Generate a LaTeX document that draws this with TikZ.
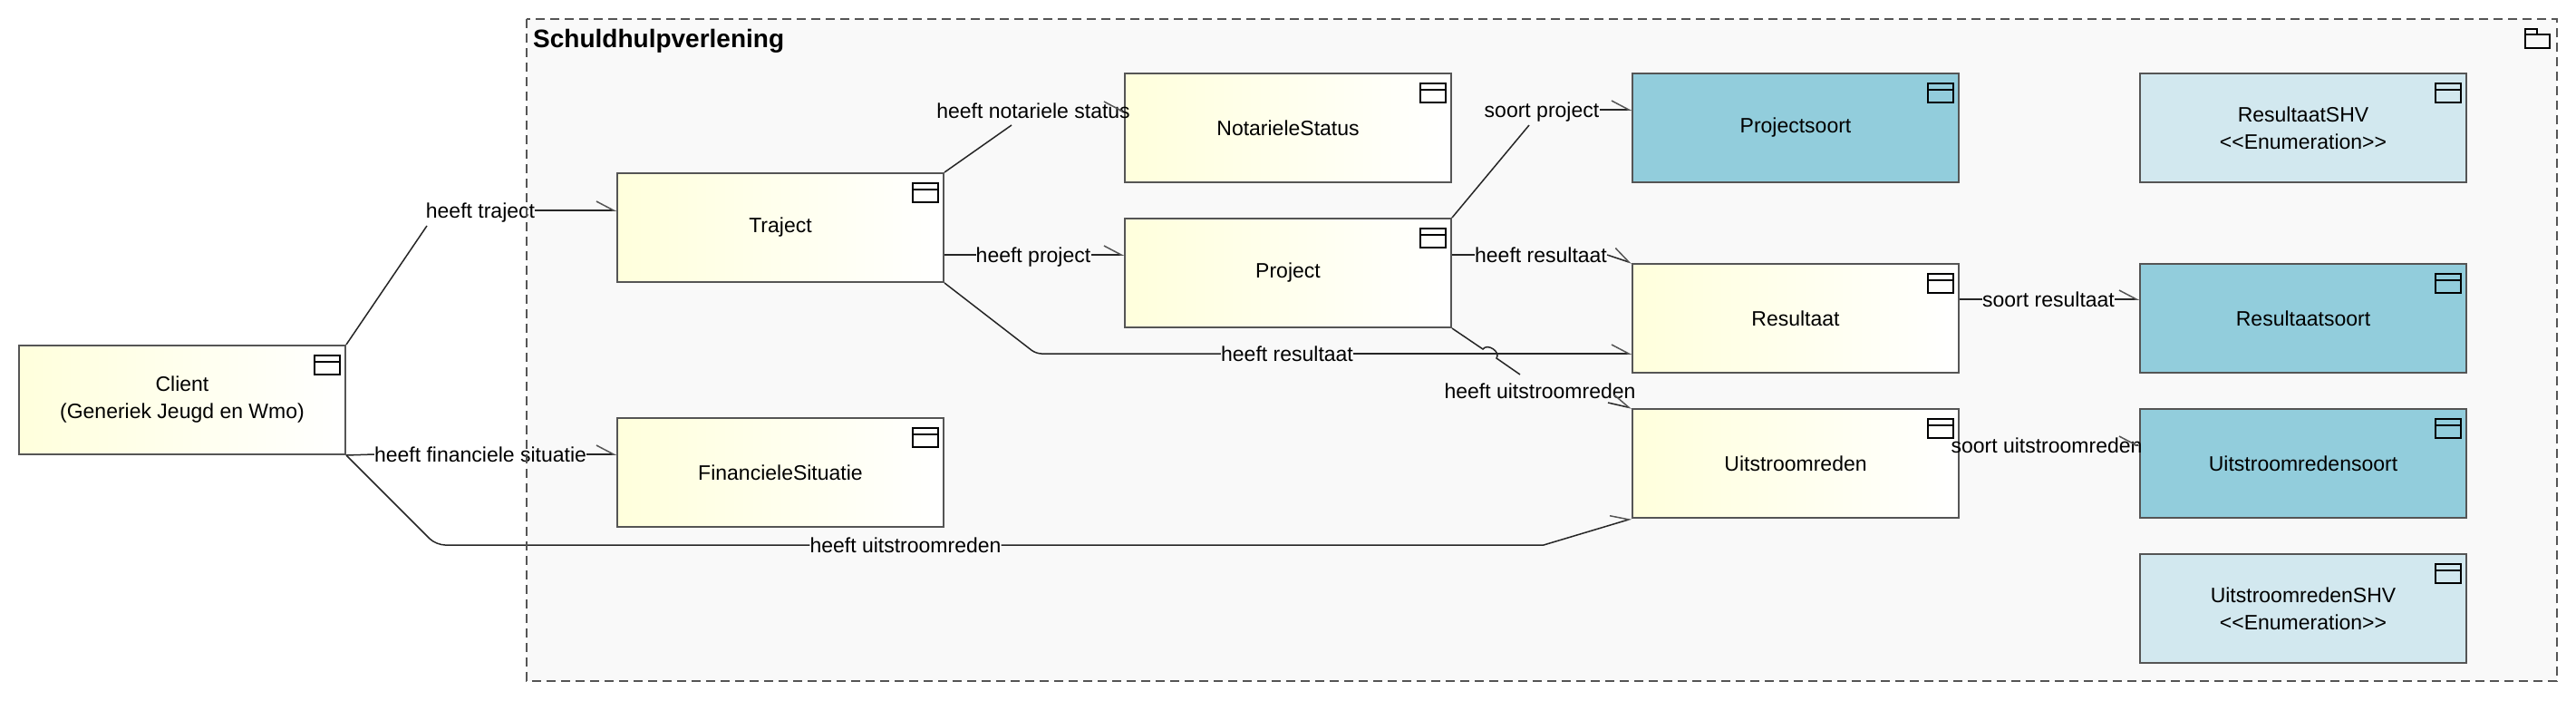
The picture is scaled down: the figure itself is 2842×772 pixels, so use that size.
\documentclass[tikz,border=0pt]{standalone}
\usepackage{fontspec}
\setmainfont{Liberation Sans}
\usetikzlibrary{arrows.meta,calc}

\definecolor{pakket}{HTML}{F9F9F9}
\definecolor{geel}{HTML}{FFFFDC}
\definecolor{soortblauw}{HTML}{92CDDC}
\definecolor{enumblauw}{HTML}{D2E8EF}
\definecolor{rand}{HTML}{555555}

\begin{document}
\begin{tikzpicture}[x=1pt,y=-1pt]
\tikzset{klasse/.style={draw=rand, line width=2pt, minimum width=360pt, minimum height=120pt, inner sep=0pt, align=center, font=\fontsize{23}{30}\selectfont,
  path picture={
    \draw[black, line width=2.4pt] ([shift={(-34pt,-11pt)}]path picture bounding box.north east) rectangle ([shift={(-6pt,-32pt)}]path picture bounding box.north east);
    \draw[black, line width=2.4pt] ([shift={(-34pt,-18pt)}]path picture bounding box.north east) -- ([shift={(-6pt,-18pt)}]path picture bounding box.north east);}}}
\tikzset{gewoon/.style={klasse, left color=geel, right color=white}}
\tikzset{soort/.style={klasse, fill=soortblauw}}
\tikzset{opsomming/.style={klasse, fill=enumblauw}}
\tikzset{rol/.style={inner sep=0pt, text height=16pt, text depth=0pt, font=\fontsize{23}{30}\selectfont}}
\tikzset{lijn/.style={draw=black!85, line width=1.5pt}}
\tikzset{pijl/.style={lijn, -{Straight Barb[left, length=19pt, width=20pt, line width=1.5pt, color=rand]}}}
\useasboundingbox (0,0) rectangle (2842,772);
\fill[white] (0,0) rectangle (2842,772);
\fill[pakket] (581,21) rectangle (2821,751);
\node[gewoon] (Client) at (201,441) {Client\\(Generiek Jeugd en Wmo)};
\node[gewoon] (Traject) at (861,251) {Traject};
\node[gewoon] (FinSituatie) at (861,521) {FinancieleSituatie};
\node[gewoon] (NotStatus) at (1421,141) {NotarieleStatus};
\node[gewoon] (Project) at (1421,301) {Project};
\node[soort] (Projectsoort) at (1981,141) {Projectsoort};
\node[gewoon] (Resultaat) at (1981,351) {Resultaat};
\node[gewoon] (Uitstroomreden) at (1981,511) {Uitstroomreden};
\node[opsomming] (ResultaatSHV) at (2541,141) {ResultaatSHV\\<{}<Enumeration>{}>};
\node[soort] (Resultaatsoort) at (2541,351) {Resultaatsoort};
\node[soort] (Uitstroomredensoort) at (2541,511) {Uitstroomredensoort};
\node[opsomming] (UitstroomredenSHV) at (2541,671) {UitstroomredenSHV\\<{}<Enumeration>{}>};
\node[rol] (lTraject) at (530,232) {heeft traject};
\node[rol] (lFinSituatie) at (530,501) {heeft financiele situatie};
\node[rol] (lUitClient) at (999,601) {heeft uitstroomreden};
\node[rol] (lNotStatus) at (1140,122) {heeft notariele status};
\node[rol] (lProject) at (1140,281) {heeft project};
\node[rol] (lResTraject) at (1420,390) {heeft resultaat};
\node[rol] (lSrtProject) at (1701,121) {soort project};
\node[rol] (lResProject) at (1700,281) {heeft resultaat};
\node[rol] (lUitProject) at (1699,431) {heeft uitstroomreden};
\node[rol] (lSrtResultaat) at (2260,330) {soort resultaat};
\node[rol] (lSrtUit) at (2258,491) {soort uitstroomreden};
\coordinate (kTraject) at (471,249);
\coordinate (kNotStatus) at (1116,138);
\coordinate (kSrtProject) at (1687,138);
\coordinate (kUitProject) at (1677,413);
\coordinate (kUitProject2) at (1774,444);
\draw[lijn] (Client.north east) -- (kTraject);
\draw[pijl] (lTraject.east) -- (lTraject.east -| Traject.west);
\draw[lijn] (Client.south east) -- (lFinSituatie.west);
\draw[pijl] (lFinSituatie.east) -- (lFinSituatie.east -| FinSituatie.west);
\draw[lijn, rounded corners=10pt] (Client.south east) -- (481,601) -- (lUitClient.west);
\draw[pijl] (lUitClient.east) -- (1703,601) -- (Uitstroomreden.south west);
\draw[lijn] (Traject.north east) -- (kNotStatus);
\draw[pijl] ($(lNotStatus.east -| NotStatus.west)+(-1,0)$) -- (lNotStatus.east -| NotStatus.west);
\draw[lijn] (lProject.west -| Traject.east) -- (lProject.west);
\draw[pijl] (lProject.east) -- (lProject.east -| Project.west);
\draw[lijn, rounded corners=6pt] (Traject.south east) -- (1143,390) -- (lResTraject.west);
\draw[pijl] (lResTraject.east) -- (lResTraject.east -| Resultaat.west);
\draw[lijn] (Project.north east) -- (kSrtProject);
\draw[pijl] (lSrtProject.east) -- (lSrtProject.east -| Projectsoort.west);
\draw[lijn] (lResProject.west -| Project.east) -- (lResProject.west);
\draw[pijl] (lResProject.east) -- (Resultaat.north west);
\draw[lijn] (Project.south east) -- (1636,385) .. controls (1641,378) and (1656,388) .. (1651,395) -- (kUitProject);
\draw[pijl] (kUitProject2) -- (Uitstroomreden.north west);
\draw[lijn] (lSrtResultaat.west -| Resultaat.east) -- (lSrtResultaat.west);
\draw[pijl] (lSrtResultaat.east) -- (lSrtResultaat.east -| Resultaatsoort.west);
\draw[pijl] ($(lSrtUit.east -| Uitstroomredensoort.west)+(-1,0)$) -- (lSrtUit.east -| Uitstroomredensoort.west);
\draw[rand, line width=1.5pt, dash pattern=on 10pt off 6pt] (581,21) rectangle (2821,751);
\node[anchor=base west, inner sep=0pt, font=\fontsize{28}{34}\selectfont\bfseries] (titel) at (588,52) {Schuldhulpverlening};
\draw[black, line width=2.2pt] (2786,38) rectangle (2813,53);
\draw[black, line width=2.2pt] (2786,38) rectangle (2799,32);
\end{tikzpicture}
\end{document}
